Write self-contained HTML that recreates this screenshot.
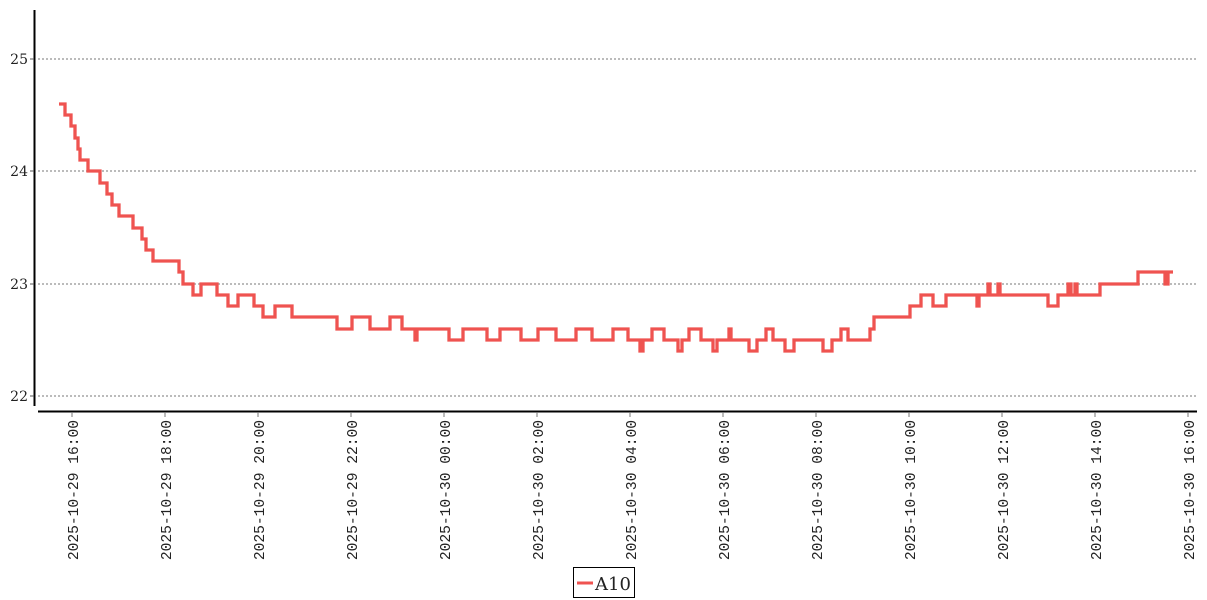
<!DOCTYPE html>
<html><head><meta charset="utf-8"><style>
body{margin:0;background:#fff;}
svg{display:block;font-family:"DejaVu Serif","Liberation Serif",serif;}
</style></head><body>
<svg width="1207" height="600" viewBox="0 0 1207 600">
<g stroke="#777" stroke-width="1" stroke-dasharray="2,2">
<line x1="38" y1="59" x2="1197" y2="59"/>
<line x1="38" y1="171" x2="1197" y2="171"/>
<line x1="38" y1="284" x2="1197" y2="284"/>
<line x1="38" y1="396" x2="1197" y2="396"/>
</g>
<line x1="34.5" y1="10" x2="34.5" y2="406" stroke="#000" stroke-width="2"/>
<line x1="38" y1="411.5" x2="1197" y2="411.5" stroke="#000" stroke-width="2"/>
<g font-size="14" fill="#222" text-anchor="end">
<text x="28" y="64">25</text><text x="28" y="176">24</text><text x="28" y="289">23</text><text x="28" y="401">22</text>
</g>
<g stroke="#555">
<line x1="30" y1="59" x2="34" y2="59"/><line x1="30" y1="171" x2="34" y2="171"/><line x1="30" y1="284" x2="34" y2="284"/><line x1="30" y1="396" x2="34" y2="396"/>
</g>
<g font-size="14.6" fill="#222" font-family="Liberation Mono,monospace" text-anchor="end">
<text transform="translate(78,420) rotate(-90)">2025-10-29 16:00</text>
<text transform="translate(171,420) rotate(-90)">2025-10-29 18:00</text>
<text transform="translate(264,420) rotate(-90)">2025-10-29 20:00</text>
<text transform="translate(357,420) rotate(-90)">2025-10-29 22:00</text>
<text transform="translate(450,420) rotate(-90)">2025-10-30 00:00</text>
<text transform="translate(543,420) rotate(-90)">2025-10-30 02:00</text>
<text transform="translate(636,420) rotate(-90)">2025-10-30 04:00</text>
<text transform="translate(729,420) rotate(-90)">2025-10-30 06:00</text>
<text transform="translate(822,420) rotate(-90)">2025-10-30 08:00</text>
<text transform="translate(915,420) rotate(-90)">2025-10-30 10:00</text>
<text transform="translate(1008,420) rotate(-90)">2025-10-30 12:00</text>
<text transform="translate(1101,420) rotate(-90)">2025-10-30 14:00</text>
<text transform="translate(1194,420) rotate(-90)">2025-10-30 16:00</text>
</g>
<g stroke="#777">
<line x1="72" y1="412" x2="72" y2="417"/><line x1="165" y1="412" x2="165" y2="417"/><line x1="258" y1="412" x2="258" y2="417"/><line x1="351" y1="412" x2="351" y2="417"/><line x1="444" y1="412" x2="444" y2="417"/><line x1="537" y1="412" x2="537" y2="417"/><line x1="630" y1="412" x2="630" y2="417"/><line x1="723" y1="412" x2="723" y2="417"/><line x1="816" y1="412" x2="816" y2="417"/><line x1="909" y1="412" x2="909" y2="417"/><line x1="1002" y1="412" x2="1002" y2="417"/><line x1="1095" y1="412" x2="1095" y2="417"/><line x1="1188" y1="412" x2="1188" y2="417"/>
</g>
<polyline fill="none" stroke="#ef5350" stroke-width="3.3" stroke-linejoin="miter" points="
59,104 65,104 65,115 71,115 71,126 75,126 75,138 78,138 78,149 80,149 80,160 88,160 88,171 100,171 100,183 107,183 107,194 112,194 112,205 119,205 119,216 133,216 133,228 142,228 142,239 146,239 146,250 153,250 153,261 179,261 179,272 183,272 183,284 193,284 193,295 201,295 201,284 217,284 217,295 228,295 228,306 238,306 238,295 254,295 254,306 263,306 263,317 275,317 275,306 292,306 292,317 337,317 337,329 352,329 352,317 370,317 370,329 390,329 390,317 402,317 402,329 415,329 415,340 417,340 417,329 449,329 449,340 463,340 463,329 487,329 487,340 500,340 500,329 521,329 521,340 538,340 538,329 556,329 556,340 576,340 576,329 592,329 592,340 613,340 613,329 628,329 628,340 640,340 640,351 643,351 643,340 652,340 652,329 664,329 664,340 678,340 678,351 682,351 682,340 689,340 689,329 701,329 701,340 713,340 713,351 717,351 717,340 729,340 729,329 731,329 731,340 749,340 749,351 757,351 757,340 766,340 766,329 773,329 773,340 785,340 785,351 794,351 794,340 823,340 823,351 832,351 832,340 841,340 841,329 848,329 848,340 870,340 870,329 874,329 874,317 910,317 910,306 921,306 921,295 933,295 933,306 946,306 946,295 977,295 977,306 979,306 979,295 988,295 988,284 990,284 990,295 998,295 998,284 1000,284 1000,295 1048,295 1048,306 1058,306 1058,295 1068,295 1068,284 1071,284 1071,295 1075,295 1075,284 1077,284 1077,295 1100,295 1100,284 1138,284 1138,272 1165,272 1165,284 1168,284 1168,272 1173,272"/>
<rect x="573.5" y="567.5" width="61" height="30" fill="#fff" stroke="#000"/>
<line x1="577" y1="583" x2="593" y2="583" stroke="#ef5350" stroke-width="3"/>
<text x="595" y="590" font-size="18" fill="#222">A10</text>
</svg>
</body></html>
